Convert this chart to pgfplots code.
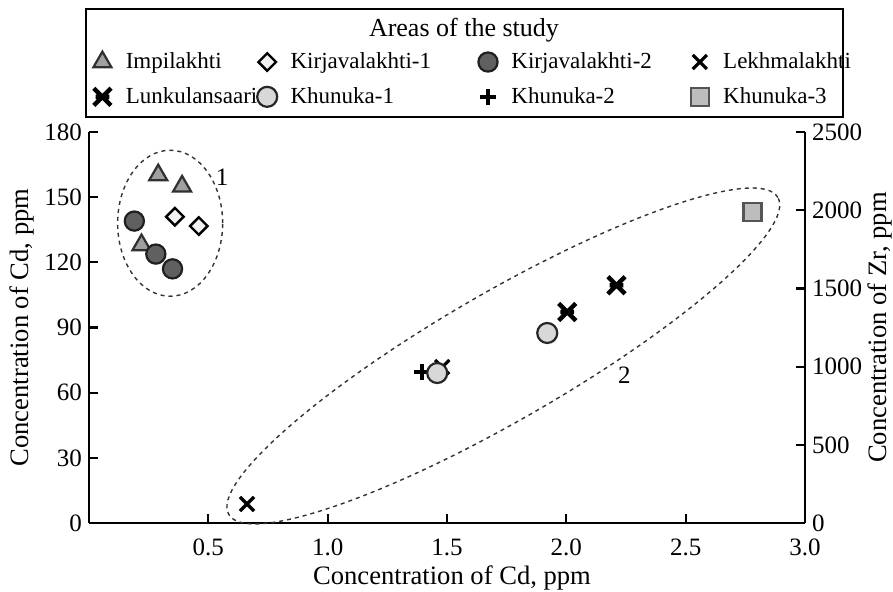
\documentclass[border=0pt]{standalone}
\usepackage{fontspec}
\setmainfont{Liberation Serif}
\usepackage{pgfplots}
\pgfplotsset{compat=1.18}
\definecolor{trifill}{HTML}{A0A0A0}
\definecolor{tridraw}{HTML}{303030}
\definecolor{diafill}{HTML}{F2F2F2}
\definecolor{ktwofill}{HTML}{606060}
\definecolor{ktwodraw}{HTML}{202020}
\definecolor{konefill}{HTML}{D8D8D8}
\definecolor{kthreefill}{HTML}{BDBDBD}
\definecolor{kthreedraw}{HTML}{555555}
\pgfdeclareplotmark{lunk}{%
  \pgfpathmoveto{\pgfqpoint{-\pgfplotmarksize}{-\pgfplotmarksize}}%
  \pgfpathlineto{\pgfqpoint{\pgfplotmarksize}{\pgfplotmarksize}}%
  \pgfpathmoveto{\pgfqpoint{-\pgfplotmarksize}{\pgfplotmarksize}}%
  \pgfpathlineto{\pgfqpoint{\pgfplotmarksize}{-\pgfplotmarksize}}%
  \pgfpathmoveto{\pgfqpoint{-0.8\pgfplotmarksize}{0pt}}%
  \pgfpathlineto{\pgfqpoint{0.8\pgfplotmarksize}{0pt}}%
  \pgfusepathqstroke
}
\tikzset{dashpat/.style={dash pattern=on 2pt off 2pt, line width=0.7pt, black!80}}
\pgfplotsset{
  base/.style={scale only axis, width=358pt, height=195.5pt, xmin=0, xmax=3,
    at={(0,0)}, anchor=south west, clip=false,
    tick align=inside, major tick length=4.5pt,
    axis line style={line width=1.2pt},
    major tick style={black, line width=1.1pt},
    tick label style={font=\fontsize{12.5}{14}\selectfont}},
  imp/.style={only marks, mark=triangle*, mark size=5.2pt, mark options={fill=trifill, draw=tridraw, line width=1.1pt}},
  kirone/.style={only marks, mark=square*, mark size=3.1pt, mark options={rotate=45, fill=diafill, draw=black, line width=1.2pt}},
  kirtwo/.style={only marks, mark=*, mark size=4.8pt, mark options={fill=ktwofill, draw=ktwodraw, line width=1.1pt}},
  lekh/.style={only marks, mark=x, mark size=5pt, mark options={draw=black, line width=1.6pt}},
  lunkst/.style={only marks, mark=lunk, mark size=4.3pt, mark options={draw=black, line width=2.2pt}},
  khone/.style={only marks, mark=*, mark size=5pt, mark options={fill=konefill, draw=black!85, line width=1.1pt}},
  khtwo/.style={only marks, mark=+, mark size=4pt, mark options={draw=black, line width=1.8pt}},
  khthree/.style={only marks, mark=square*, mark size=4.5pt, mark options={fill=kthreefill, draw=kthreedraw, line width=1.2pt}},
  legmark/.style={legend image code/.code={\path (-6pt,-6pt) (6pt,6pt); \draw[##1] plot coordinates {(0pt,0pt)};}}
}
\begin{document}
\begin{tikzpicture}
\begin{axis}[base, axis x line*=bottom, axis y line*=left,
  ymin=0, ymax=180,
  xtick={0.5,1,1.5,2,2.5,3}, xticklabels={0.5,1.0,1.5,2.0,2.5,3.0},
  xticklabel style={yshift=-4.5pt},
  ytick={0,30,60,90,120,150,180}, yticklabels={0,30,60,90,120,150,180},
  xlabel={Concentration of Cd, ppm},
  ylabel={Concentration of Cd, ppm},
  every axis x label/.style={at={(axis description cs:0.507,-0.14)}, anchor=center, font=\fontsize{13.3}{15}\selectfont},
  every axis y label/.style={at={(axis description cs:-0.0936,0.5)}, anchor=center, rotate=90, font=\fontsize{13.3}{15}\selectfont}]
\addplot[imp] coordinates {(0.29,160.2) (0.39,155) (0.22,128)};
\addplot[kirone] coordinates {(0.36,141) (0.46,136.7)};
\addplot[kirtwo] coordinates {(0.19,139) (0.28,123.8) (0.35,117)};
\draw[dashpat] (axis cs:0.34,138) ellipse [x radius=26.25pt, y radius=36.5pt];
\draw[dashpat, rotate around={30:(axis cs:1.736,76.9)}] (axis cs:1.736,76.9) ellipse [x radius=158.5pt, y radius=32pt];
\node[font=\fontsize{12.5}{14}\selectfont] at (axis cs:0.558,159.3) {1};
\node[font=\fontsize{12.5}{14}\selectfont] at (axis cs:2.243,68.1) {2};
\end{axis}
\begin{axis}[base, axis x line=none, axis y line*=right,
  ymin=0, ymax=2500,
  ytick={0,500,1000,1500,2000,2500}, yticklabels={0,500,1000,1500,2000,2500},
  ylabel={Concentration of Zr, ppm},
  every axis y label/.style={at={(axis description cs:1.1047,0.5)}, anchor=center, rotate=90, font=\fontsize{13.3}{15}\selectfont},
  legend columns=4, legend cell align=left,
  legend style={at={(axis description cs:0.0014,1.2107)}, anchor=north west,
    draw=none, fill=none, inner sep=0pt, outer sep=0pt, column sep=0pt, row sep=5pt,
    font=\fontsize{11.5}{13}\selectfont, nodes={inner xsep=0pt, inner ysep=1pt}}]
\addlegendimage{imp, legmark}
\addlegendentry{\makebox[70pt][l]{\hspace{5.5pt}Impilakhti}}
\addlegendimage{kirone, legmark}
\addlegendentry{\makebox[98pt][l]{\hspace{5.5pt}Kirjavalakhti-1}}
\addlegendimage{kirtwo, legmark}
\addlegendentry{\makebox[93.5pt][l]{\hspace{5.5pt}Kirjavalakhti-2}}
\addlegendimage{lekh, legmark}
\addlegendentry{\hspace{5.5pt}Lekhmalakhti}
\addlegendimage{lunkst, legmark}
\addlegendentry{\makebox[70pt][l]{\hspace{5.5pt}Lunkulansaari}}
\addlegendimage{khone, legmark}
\addlegendentry{\makebox[98pt][l]{\hspace{5.5pt}Khunuka-1}}
\addlegendimage{khtwo, legmark}
\addlegendentry{\makebox[93.5pt][l]{\hspace{5.5pt}Khunuka-2}}
\addlegendimage{khthree, legmark}
\addlegendentry{\hspace{5.5pt}Khunuka-3}
\addplot[lekh, forget plot] coordinates {(0.662,121.5) (1.480,997)};
\addplot[khtwo, forget plot] coordinates {(1.396,965)};
\addplot[khone, forget plot] coordinates {(1.459,959) (1.920,1215)};
\addplot[lunkst, forget plot] coordinates {(2.004,1349) (2.21,1520)};
\addplot[khthree, forget plot] coordinates {(2.780,1988)};
\node[font=\fontsize{13}{15}\selectfont] at (axis description cs:0.5237,1.2609) {Areas of the study};
\draw[line width=1pt] (axis description cs:-0.0042,1.0384) rectangle (axis description cs:1.0531,1.3146);
\end{axis}
\pgfresetboundingbox
\path (-44.5pt,-34pt) (402pt,261.5pt);
\end{tikzpicture}
\end{document}
